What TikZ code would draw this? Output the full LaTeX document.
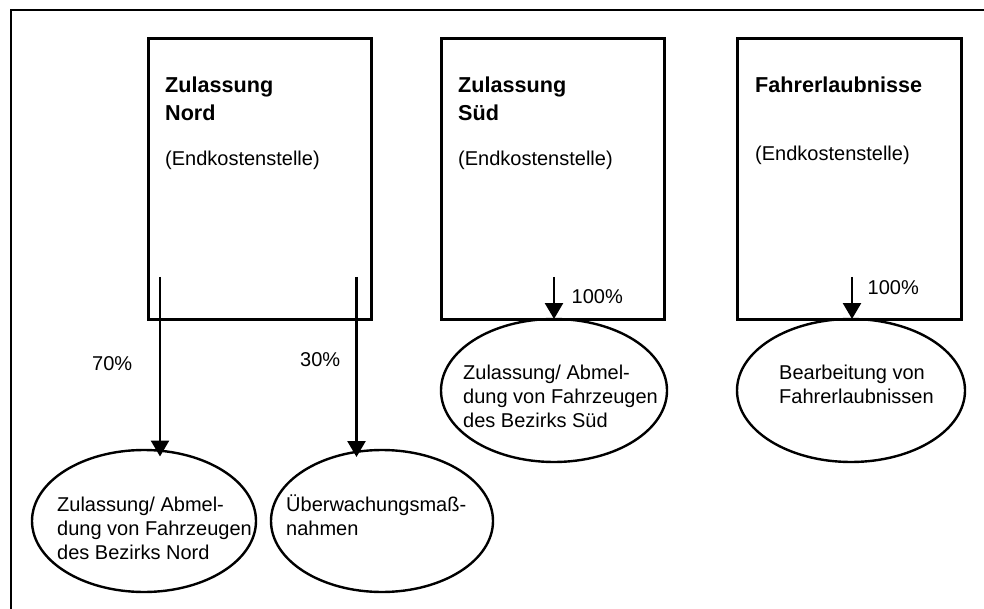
\documentclass[tikz,border=0pt]{standalone}
\usepackage{fontspec}
\setmainfont{Liberation Sans}
\usetikzlibrary{shapes.geometric,arrows.meta}
\tikzset{
  frame/.style={line width=2pt},
  boxnode/.style={draw, line width=3pt, rectangle, inner sep=0pt, outer sep=0pt},
  ell/.style={draw, line width=2.4pt, ellipse, inner sep=0pt, outer sep=0pt},
  arr/.style={line width=2.6pt, -{Triangle[width=18pt,length=16pt]}},
  title/.style={font=\bfseries\fontsize{21.6}{28}\selectfont, inner sep=0pt, anchor=base west},
  body/.style={font=\fontsize{20}{24}\selectfont, inner sep=0pt, anchor=base west},
}
\newcommand{\mylines}[1]{\begin{tabular}[t]{@{}l@{}}#1\end{tabular}}
\begin{document}
\begin{tikzpicture}[x=1pt,y=-1pt]
\useasboundingbox (0,0) rectangle (984,609);
% outer frame (only left and top edges visible)
\draw[frame] (10.5,700) -- (10.5,10.5) -- (1100,10.5);

% boxes
\node[boxnode, minimum width=223pt, minimum height=280pt] (b1) at (259.5,179) {};
\node[boxnode, minimum width=223pt, minimum height=280pt] (b2) at (552.5,179) {};
\node[boxnode, minimum width=224pt, minimum height=280pt] (b3) at (849,179) {};

% box texts
\node[title] (b1t) at (165,92.3) {\mylines{Zulassung\\Nord}};
\node[body]  (b1e) at (165,166) {(Endkostenstelle)};
\node[title] (b2t) at (458,92.3) {\mylines{Zulassung\\Süd}};
\node[body]  (b2e) at (458,166) {(Endkostenstelle)};
\node[title] (b3t) at (755,92.3) {Fahrerlaubnisse};
\node[body]  (b3e) at (755,161) {(Endkostenstelle)};

% ellipses
\node[ell, minimum width=224pt, minimum height=142pt] (e1) at (144,521) {};
\node[ell, minimum width=222pt, minimum height=142pt] (e2) at (382,521) {};
\node[ell, minimum width=226pt, minimum height=143pt] (e3) at (554,390.5) {};
\node[ell, minimum width=228pt, minimum height=143pt] (e4) at (851,390.5) {};

% ellipse texts
\node[body] (e1t) at (57,511) {\mylines{Zulassung/ Abmel-\\dung von Fahrzeugen\\des Bezirks Nord}};
\node[body] (e2t) at (286,511) {\mylines{Überwachungsmaß-\\nahmen}};
\node[body] (e3t) at (463,379) {\mylines{Zulassung/ Abmel-\\dung von Fahrzeugen\\des Bezirks Süd}};
\node[body] (e4t) at (779,379) {\mylines{Bearbeitung von\\Fahrerlaubnissen}};

% arrow starts
\coordinate (s1) at (160,277);
\coordinate (s2) at (356.5,277);
\coordinate (s3) at (554,277);
\coordinate (s4) at (852,277);

% arrows
\draw[arr, shorten >=-6.5pt] (s1) -- (s1 |- e1.north);
\draw[arr, shorten >=-7pt] (s2) -- (s2 |- e2.north);
\draw[arr] (s3) -- (s3 |- e3.north);
\draw[arr] (s4) -- (s4 |- e4.north);

% percentages
\node[body] (p1) at (92,370) {70\%};
\node[body] (p2) at (300,366) {30\%};
\node[body] (p3) at (571.5,303) {100\%};
\node[body] (p4) at (867.5,294.5) {100\%};
\end{tikzpicture}
\end{document}
